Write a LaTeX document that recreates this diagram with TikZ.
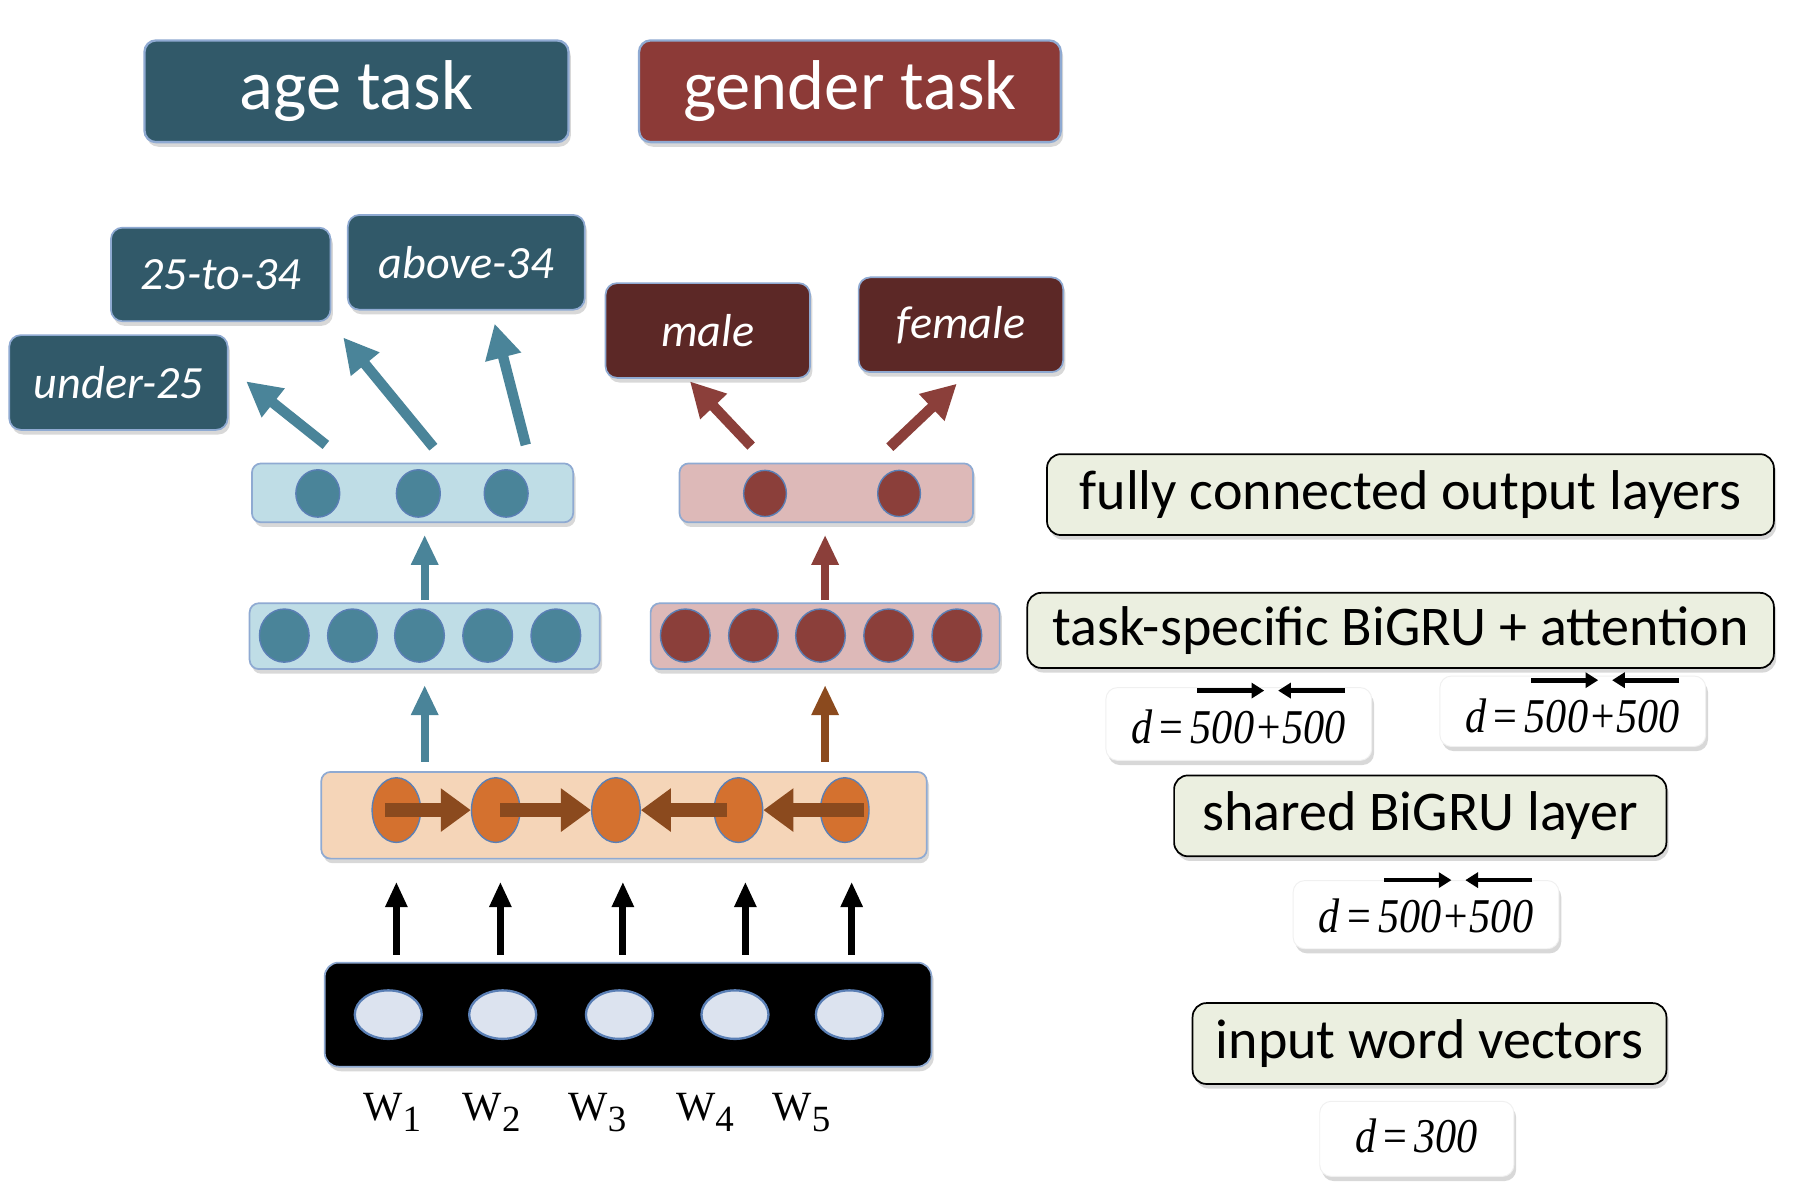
\documentclass[tikz,border=0pt]{standalone}
\usepackage{fontspec}
\setmainfont{Carlito}
\newfontfamily\timesf{Liberation Serif}
\usepackage{graphicx}
\usetikzlibrary{shadows,arrows.meta,shapes.geometric}
\definecolor{agedark}{RGB}{49,89,105}
\definecolor{gendtitle}{RGB}{140,58,55}
\definecolor{gendclass}{RGB}{92,40,38}
\definecolor{tealc}{RGB}{74,132,153}
\definecolor{maroonc}{RGB}{139,63,58}
\definecolor{brownc}{RGB}{139,74,30}
\definecolor{lblue}{RGB}{191,221,230}
\definecolor{lpink}{RGB}{221,185,184}
\definecolor{peach}{RGB}{245,213,184}
\definecolor{orangec}{RGB}{212,113,47}
\definecolor{incirc}{RGB}{220,227,239}
\definecolor{lblfill}{RGB}{235,239,224}
\definecolor{bordc}{RGB}{143,170,210}
\definecolor{circbord}{RGB}{90,127,181}
\tikzset{
  shad/.style={drop shadow={shadow xshift=2pt,shadow yshift=-4pt,opacity=0.3}},
  titlebox/.style={shad,draw=bordc,line width=2pt,rounded corners=10pt,text=white,inner sep=0pt,
     font=\fontsize{61}{61}\selectfont},
  clsbox/.style={shad,draw=bordc,line width=1.5pt,rounded corners=10pt,text=white,inner sep=0pt,
     font=\fontsize{40}{40}\selectfont\itshape},
  layerbox/.style={shad,draw=bordc,line width=1.5pt,rounded corners=8pt,inner sep=0pt},
  unit/.style={ellipse,draw=circbord,line width=1.2pt,inner sep=0pt,minimum size=40pt},
  lblbox/.style={shad,draw=black,fill=lblfill,line width=1.5pt,rounded corners=12pt,inner sep=0pt,
     font=\fontsize{48.5}{48.5}\selectfont},
  dbox/.style={shad,draw=gray!12,fill=white,line width=0.8pt,rounded corners=10pt,inner sep=0pt},
  dtext/.style={anchor=base,inner sep=0pt,font=\timesf\fontsize{42}{42}\selectfont},
  bigarr/.style={line width=9pt,-{Triangle[width=30pt,length=30pt]}},
  midarr/.style={line width=7pt,-{Triangle[width=22pt,length=26pt]}},
  inarr/.style={line width=6pt,black,-{Triangle[width=18pt,length=22pt]}},
  rnnarr/.style={line width=12pt,brownc,-{Triangle[width=36pt,length=26pt]}},
  ovarr/.style={line width=4pt,black,-{Triangle[width=13pt,length=11pt]}},
  wlbl/.style={anchor=base,inner sep=0pt},
}
\newcommand{\dlab}[1]{\scalebox{0.87}[1]{#1}}
\newcommand{\wsub}[1]{{\timesf\fontsize{36}{36}\selectfont W\raisebox{-9pt}{\fontsize{32}{32}\selectfont #1}}}
\begin{document}
\begin{tikzpicture}[x=1pt,y=-1pt]
\useasboundingbox[fill=white] (0,0) rectangle (1568,1040.1);

% titles
\node[titlebox,fill=agedark,minimum width=367pt,minimum height=88pt] (agetask) at (308.5,79) {age task};
\node[titlebox,fill=gendtitle,minimum width=365pt,minimum height=88pt] (gendtask) at (735.5,79) {gender task};

% class boxes
\node[clsbox,fill=agedark,minimum width=190pt,minimum height=81pt] (c2534) at (191,237.5) {25-to-34};
\node[clsbox,fill=agedark,minimum width=205pt,minimum height=82pt] (above) at (403.5,227) {above-34};
\node[clsbox,fill=agedark,minimum width=189pt,minimum height=82pt] (under) at (102.5,331) {under-25};
\node[clsbox,fill=gendclass,minimum width=177pt,minimum height=82pt] (male) at (612.5,286) {male};
\node[clsbox,fill=gendclass,minimum width=177pt,minimum height=82pt] (female) at (831.5,281) {female};

% fully connected layers
\node[layerbox,fill=lblue,minimum width=278pt,minimum height=51pt] (agefc) at (357,426.5) {};
\node[layerbox,fill=lpink,minimum width=254pt,minimum height=51pt] (gendfc) at (715,426.5) {};
\foreach \i/\x in {1/275,2/362,3/438}
  \node[unit,fill=tealc,minimum width=38pt,minimum height=41pt] (af\i) at (\x,427) {};
\foreach \i/\x in {1/662,2/778}
  \node[unit,fill=maroonc,minimum width=37pt,minimum height=40pt] (gf\i) at (\x,427) {};

% task-specific BiGRU layers
\node[layerbox,fill=lblue,minimum width=303pt,minimum height=57pt] (agebi) at (367.5,550.5) {};
\node[layerbox,fill=lpink,minimum width=302pt,minimum height=57pt] (gendbi) at (714,550.5) {};
\foreach \i/\x in {1/246,2/305,3/363,4/422,5/481}
  \node[unit,fill=tealc,minimum width=43pt,minimum height=46pt] (ab\i) at (\x,550) {};
\foreach \i/\x in {1/593,2/652,3/710,4/769,5/828}
  \node[unit,fill=maroonc,minimum width=43pt,minimum height=46pt] (gb\i) at (\x,550) {};

% shared BiGRU layer
\node[layerbox,fill=peach,minimum width=524pt,minimum height=75pt] (shared) at (540,705.5) {};
\foreach \i/\x in {1/343,2/429,3/533,4/639,5/731}
  \node[unit,fill=orangec,minimum width=42pt,minimum height=56pt] (sb\i) at (\x,701) {};
\draw[rnnarr] ([xshift=-10pt]sb1.center) -- (sb2.west);
\draw[rnnarr] ([xshift=4pt]sb2.center) -- (sb3.west);
\draw[rnnarr] ([xshift=-10pt]sb4.center) -- (sb3.east);
\draw[rnnarr] ([xshift=17pt]sb5.center) -- (sb4.east);

% input layer
\node[layerbox,fill=black,rounded corners=12pt,minimum width=525pt,minimum height=90pt] (input) at (543.5,878) {};
\foreach \i/\x in {1/336,2/435,3/536,4/636,5/735}
  \node[unit,fill=incirc,draw=circbord,line width=2pt,minimum width=58pt,minimum height=42pt] (in\i) at (\x,878) {};

% word labels
\foreach \i/\x in {1/339.5,2/425.5,3/517,4/610,5/693.5}
  \node[wlbl] (w\i) at (\x,970) {\wsub{\i}};

% input arrows
\foreach \i/\x in {1/343,2/433,3/539,4/645,5/737}{
  \coordinate (ia\i) at (\x,826);
  \coordinate (ib\i) at (\x,763);
  \draw[inarr] (ia\i) -- (ib\i);
}

% shared -> task arrows
\draw[midarr,tealc] ([yshift=8pt]shared.north -| agebi.center) -- ([yshift=-13pt]agebi.south);
\draw[midarr,brownc] ([yshift=8pt]shared.north -| gendbi.center) -- ([yshift=-13pt]gendbi.south);
% task -> fc arrows
\draw[midarr,tealc] ([yshift=2pt]agebi.north) -- ([yshift=-10pt]agefc.south -| agebi.center);
\draw[midarr,maroonc] ([yshift=2pt]gendbi.north) -- ([yshift=-10pt]gendfc.south -| gendbi.center);

% fc -> class arrows
\coordinate (ua) at (282,385); \coordinate (ub) at (213,330);
\coordinate (ma) at (375,387); \coordinate (mb) at (297,292);
\coordinate (aa) at (455,385); \coordinate (ab) at (428,280);
\coordinate (fa) at (650,386); \coordinate (fb) at (597,330);
\coordinate (ea) at (770,387); \coordinate (eb) at (828,332);
\draw[bigarr,tealc] (ua) -- (ub);
\draw[bigarr,tealc] (ma) -- (mb);
\draw[bigarr,tealc] (aa) -- (ab);
\draw[bigarr,maroonc] (fa) -- (fb);
\draw[bigarr,maroonc] (ea) -- (eb);

% right-hand labels
\node[lblbox,minimum width=629pt,minimum height=70pt] (lfc) at (1220.5,428) {fully connected output layers};
\node[lblbox,minimum width=646pt,minimum height=65pt] (lts) at (1212,545.5) {task-specific BiGRU + attention};
\node[lblbox,minimum width=426pt,minimum height=70pt] (lsh) at (1229,706) {shared BiGRU layer};
\node[lblbox,minimum width=410pt,minimum height=70pt] (lin) at (1237,903) {input word vectors};

% dimension boxes
\node[dbox,minimum width=230pt,minimum height=63pt] (d1) at (1072,626.5) {};
\node[dbox,minimum width=230pt,minimum height=61pt] (d2) at (1361,615.5) {};
\node[dbox,minimum width=230pt,minimum height=59pt] (d3) at (1234,791.5) {};
\node[dbox,minimum width=168pt,minimum height=65pt] (d4) at (1226,985.5) {};
\node[dtext] (t1) at ([yshift=-17pt]d1.center) {\dlab{\textit{d}\,=\,\textit{500+500}}};
\node[dtext] (t2) at ([yshift=-18pt]d2.center) {\dlab{\textit{d}\,=\,\textit{500+500}}};
\node[dtext] (t3) at ([yshift=-15pt]d3.center) {\dlab{\textit{d}\,=\,\textit{500+500}}};
\node[dtext] (t4) at ([yshift=-12pt]d4.center) {\dlab{\textit{d}\,=\,\textit{300}}};

% over-arrows
\foreach \b/\dy in {d1/3,d2/4,d3/0}{
  \draw[ovarr] ([xshift=-36pt,yshift=-\dy pt]\b.north) -- ([xshift=22pt,yshift=-\dy pt]\b.north);
  \draw[ovarr] ([xshift=92pt,yshift=-\dy pt]\b.north) -- ([xshift=34pt,yshift=-\dy pt]\b.north);
}
\end{tikzpicture}
\end{document}
